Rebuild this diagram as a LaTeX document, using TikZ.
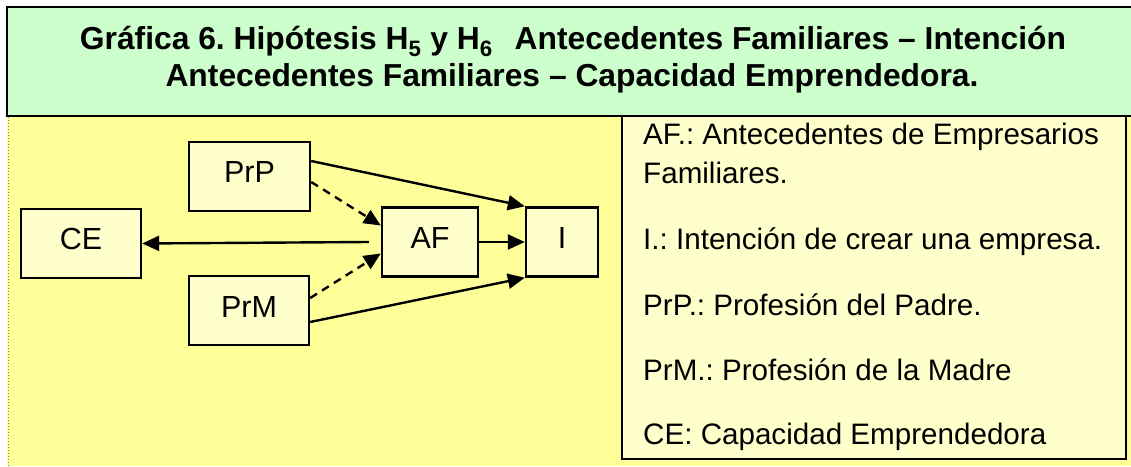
\documentclass[tikz,border=0pt]{standalone}
\usepackage{fontspec}
\setmainfont{Liberation Sans}
\usetikzlibrary{arrows.meta}
\definecolor{titlegreen}{HTML}{CCFFCC}
\definecolor{bgyellow}{HTML}{FFFF99}
\definecolor{boxyellow}{HTML}{FFFFCC}
\begin{document}
\frenchspacing
\begin{tikzpicture}[x=1pt,y=1pt,
  varbox/.style={draw, fill=boxyellow, line width=2.4pt, inner sep=0pt, minimum height=69pt,
    font=\fontsize{30.5}{36}\selectfont, text height=22pt, text depth=9pt},
  conn/.style={line width=2.4pt, -{Triangle[length=17pt,width=15pt]}},
  dashconn/.style={conn, dash pattern=on 8pt off 6pt},
  legendtext/.style={anchor=base west, inner sep=0pt, font=\fontsize{29.6}{36}\selectfont},
  titletext/.style={anchor=base, inner sep=0pt, font=\fontsize{31.8}{38}\selectfont\bfseries}]
\useasboundingbox (0,0) rectangle (1131,466);
\clip (0,0) rectangle (1131,466);
\fill[white] (0,0) rectangle (1131,466);
\fill[bgyellow] (7,0) rectangle (1140,350);
\draw[gray, dotted, line width=1pt] (8,0) -- (8,350);
\draw[fill=titlegreen, line width=2.2pt] (7,350) rectangle (1145,459);
\draw[fill=boxyellow, line width=2.2pt] (622,7) rectangle (1126,350);

\node[titletext] (t1) at (573,416) {Gráfica 6. Hipótesis H\textsubscript{5} y H\textsubscript{6}\hspace{22pt}Antecedentes Familiares – Intención};
\node[titletext] (t2) at (572,379) {Antecedentes Familiares – Capacidad Emprendedora.};

\node[varbox, minimum width=120pt] (CE) at (81,222.5) {CE};
\node[varbox, minimum width=121pt] (PrP) at (249.5,289.5) {PrP};
\node[varbox, minimum width=120pt] (PrM) at (249,155.5) {PrM};
\node[varbox, minimum width=96pt] (AF) at (430,224) {AF};
\node[varbox, minimum width=72pt] (I) at (562,224) {I};

\draw[conn] ([yshift=15.5pt]PrP.east) -- (I.north west);
\draw[conn] ([yshift=-11.5pt]PrM.east) -- (I.south west);
\draw[dashconn] ([yshift=-5.5pt]PrP.east) -- ([yshift=16.5pt]AF.west);
\draw[dashconn] ([yshift=12.5pt]PrM.east) -- ([yshift=-11.5pt]AF.west);
\draw[conn] (AF.east) -- (I.west);
\draw[conn] ([xshift=-12pt]AF.west) -- (CE.east);

\node[legendtext] (l1) at (643,321) {AF.: Antecedentes de Empresarios};
\node[legendtext] (l2) at (643,282) {Familiares.};
\node[legendtext] (l3) at (643,216) {I.: Intención de crear una empresa.};
\node[legendtext] (l4) at (643,151) {PrP.: Profesión del Padre.};
\node[legendtext] (l5) at (643,86) {PrM.: Profesión de la Madre};
\node[legendtext] (l6) at (643,22) {CE: Capacidad Emprendedora};
\end{tikzpicture}
\end{document}
